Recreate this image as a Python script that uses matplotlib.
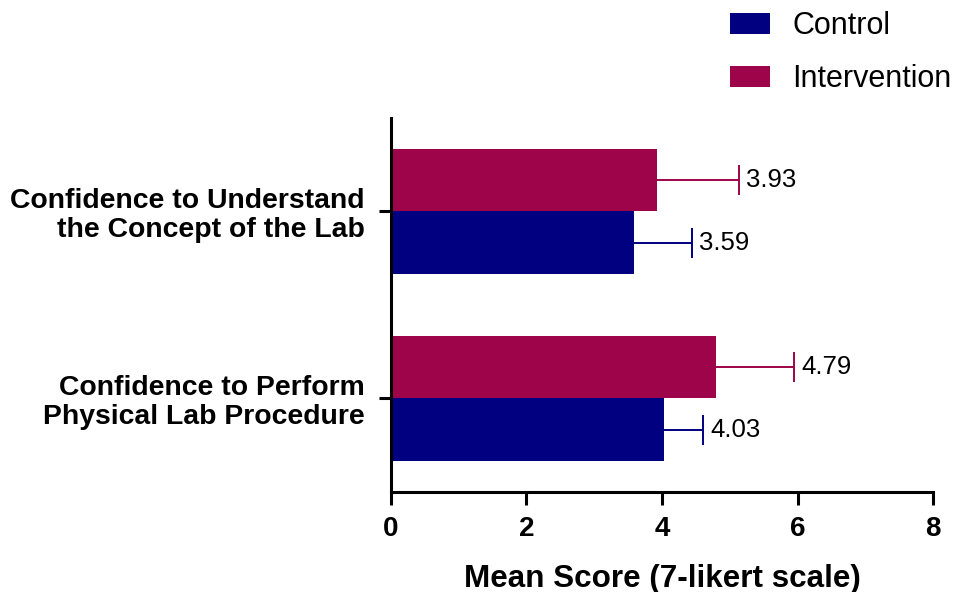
import numpy as np
import matplotlib
matplotlib.use("Agg")
from matplotlib import pyplot as plt

plt.rcParams['font.family'] = ['Liberation Sans', 'DejaVu Sans']

categories = ["Confidence to Perform\nPhysical Lab Procedure",
              "Confidence to Understand\nthe Concept of the Lab"]
control_mean = [4.03, 3.59]
control_err = [0.58, 0.85]
interv_mean = [4.79, 3.93]
interv_err = [1.16, 1.21]

navy = "#000080"
berry = "#9E0449"

fig = plt.figure(figsize=(9.59, 5.92), dpi=100)
ax = fig.add_axes([0.4077, 0.169, 0.5652, 0.632])

y = np.arange(len(categories))
h = 0.335

ax.barh(y - h / 2, control_mean, height=h, color=navy, label="Control")
ax.barh(y + h / 2, interv_mean, height=h, color=berry, label="Intervention")

# one-sided error bars, no cap at the bar end
for means, errs, yy, col in [(control_mean, control_err, y - h / 2, navy),
                             (interv_mean, interv_err, y + h / 2, berry)]:
    eb = ax.errorbar(means, yy, xerr=[np.zeros(2), errs], fmt="none",
                     ecolor=col, elinewidth=1.4, capsize=11, capthick=1.4)
    eb[1][0].set_visible(False)
    for m, e, yv in zip(means, errs, yy):
        ax.annotate(f"{m:.2f}", (m + e, yv), xytext=(5, 0), textcoords="offset points",
                    va="center", ha="left", fontsize=18.5)

ax.set_xlim(0, 8)
ax.set_ylim(-0.5, 1.5)
ax.set_xticks([0, 2, 4, 6, 8])
ax.set_yticks(y)
ax.set_yticklabels(categories, fontweight="bold", fontsize=20.4, ha="right",
                   linespacing=1.15)
for lab in ax.get_xticklabels():
    lab.set_fontweight("bold")
ax.tick_params(axis="x", labelsize=20, length=9, width=2.2, pad=8)
ax.tick_params(axis="y", length=9, width=2.2, pad=10)
ax.set_xlabel("Mean Score (7-likert scale)", fontweight="bold", fontsize=22.6, labelpad=16)

for side in ["top", "right"]:
    ax.spines[side].set_visible(False)
for side in ["left", "bottom"]:
    ax.spines[side].set_linewidth(2.2)

handles, labels = ax.get_legend_handles_labels()
fig.legend(handles, labels, loc="upper left", bbox_to_anchor=(0.761, 0.981),
           frameon=False, fontsize=22, handlelength=1.3, handleheight=0.7,
           handletextpad=0.75, labelspacing=0.76, borderpad=0, borderaxespad=0)

fig.savefig("out.png", dpi=100)
